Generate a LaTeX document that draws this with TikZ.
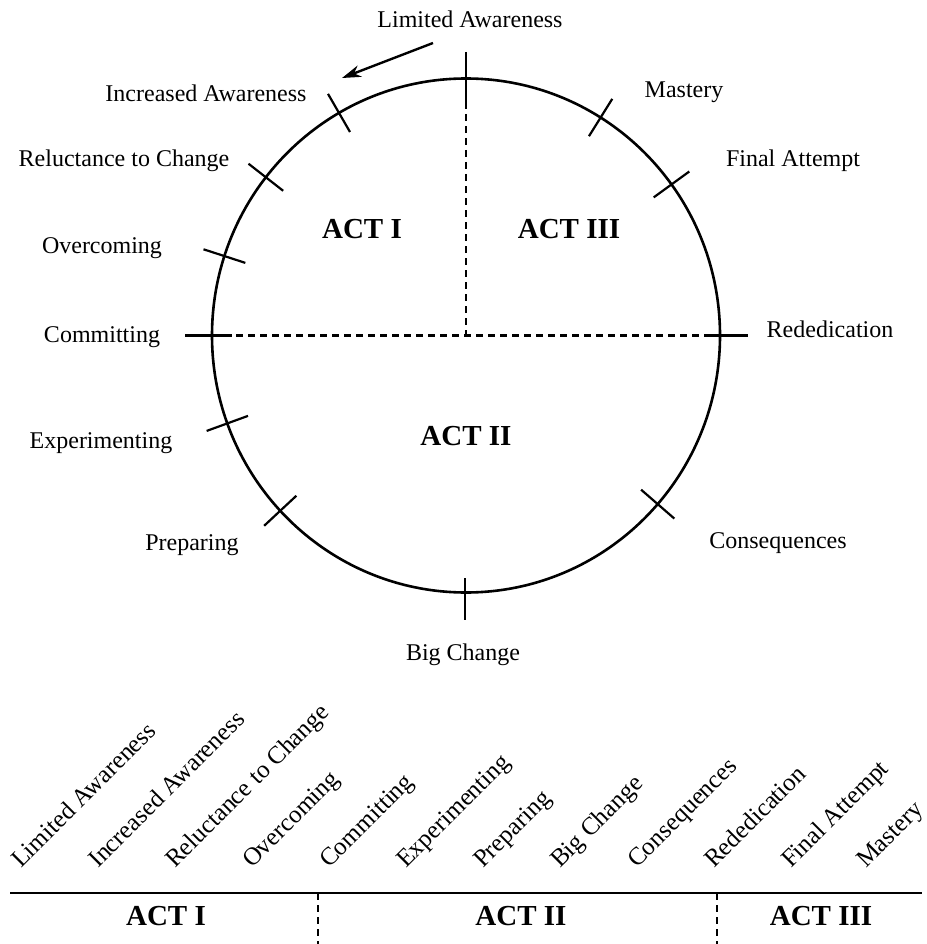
\documentclass[tikz,border=0pt]{standalone}
\usepackage{fontspec}
\setmainfont{Liberation Serif}
\usetikzlibrary{arrows.meta}
\begin{document}
\begin{tikzpicture}[x=1pt,y=-1pt,
  lbl/.style={font=\fontsize{24}{28}\selectfont, inner sep=0pt, anchor=base},
  actlbl/.style={font=\fontsize{29}{33}\selectfont\bfseries, inner sep=0pt, anchor=base},
  rotlbl/.style={font=\fontsize{25}{29}\selectfont, inner sep=0pt, anchor=base west, rotate=45},
  ring/.style={line width=2.6pt},
  tick/.style={line width=2.2pt},
  dashln/.style={line width=2.4pt, dash pattern=on 7pt off 5pt}]
\fill[white] (0,0) rectangle (926,944);
\useasboundingbox (0,0) rectangle (926,944);

% circle
\coordinate (ctr) at (466,335.5);
\draw[ring] (ctr) ellipse [x radius=254pt, y radius=257pt];

% axes
\coordinate (topA) at (466,52);
\coordinate (topB) at (466,102);
\draw[tick] (topA) -- (topB);
\draw[dashln] (topB) -- (ctr);
\coordinate (lft) at (212,335.5);
\coordinate (rgt) at (720,335.5);
\draw[dashln] (lft) -- (rgt);
\draw[tick] (185,335.5) -- (232,335.5);
\draw[tick] (706,335.5) -- (748,335.5);
\draw[tick] (465,578) -- (465,620);

% radial ticks
\foreach \a in {120,142,162,200,223,-41,36,58}{
  \draw[tick] ({466+276*cos(\a)},{335.5-279*sin(\a)}) -- ({466+232*cos(\a)},{335.5-235*sin(\a)});
}

% arrow
\coordinate (arrS) at (433,43);
\coordinate (arrE) at (342,78);
\draw[line width=2.4pt,-{Stealth[length=19pt,width=12pt]}] (arrS) -- (arrE);

% circle labels
\node[lbl] (la) at (470,28) {Limited Awareness};
\node[lbl] (ia) at (206,102) {Increased Awareness};
\node[lbl] (rc) at (124,167) {Reluctance to Change};
\node[lbl] (ov) at (102,253) {Overcoming};
\node[lbl] (cm) at (102,342) {Committing};
\node[lbl] (ex) at (101,448) {Experimenting};
\node[lbl] (pr) at (192,550) {Preparing};
\node[lbl] (bc) at (463,660) {Big Change};
\node[lbl] (cq) at (778,548) {Consequences};
\node[lbl] (rd) at (830,337) {Rededication};
\node[lbl] (fa) at (793,167) {Final Attempt};
\node[lbl] (ms) at (684,98) {Mastery};

\node[actlbl] (a1) at (362,238) {ACT I};
\node[actlbl] (a3) at (569,238) {ACT III};
\node[actlbl] (a2) at (466,445) {ACT II};

% bottom timeline
\node[rotlbl] (b1) at (21,869) {Limited Awareness};
\node[rotlbl] (b2) at (98,869) {Increased Awareness};
\node[rotlbl] (b3) at (175,869) {Reluctance to Change};
\node[rotlbl] (b4) at (252,869) {Overcoming};
\node[rotlbl] (b5) at (329,869) {Committing};
\node[rotlbl] (b6) at (406,869) {Experimenting};
\node[rotlbl] (b7) at (483,869) {Preparing};
\node[rotlbl] (b8) at (560,869) {Big Change};
\node[rotlbl] (b9) at (637,869) {Consequences};
\node[rotlbl] (b10) at (714,869) {Rededication};
\node[rotlbl] (b11) at (791,869) {Final Attempt};
\node[rotlbl] (b12) at (866,869) {Mastery};

\coordinate (lnL) at (10,893);
\coordinate (lnR) at (922,893);
\draw[line width=2.4pt] (lnL) -- (lnR);
\coordinate (d1a) at (318,893);
\coordinate (d1b) at (318,944);
\coordinate (d2a) at (717,893);
\coordinate (d2b) at (717,944);
\draw[dashln] (d1a) -- (d1b);
\draw[dashln] (d2a) -- (d2b);

\node[actlbl] (t1) at (166,925) {ACT I};
\node[actlbl] (t2) at (521,925) {ACT II};
\node[actlbl] (t3) at (821,925) {ACT III};
\end{tikzpicture}
\end{document}
